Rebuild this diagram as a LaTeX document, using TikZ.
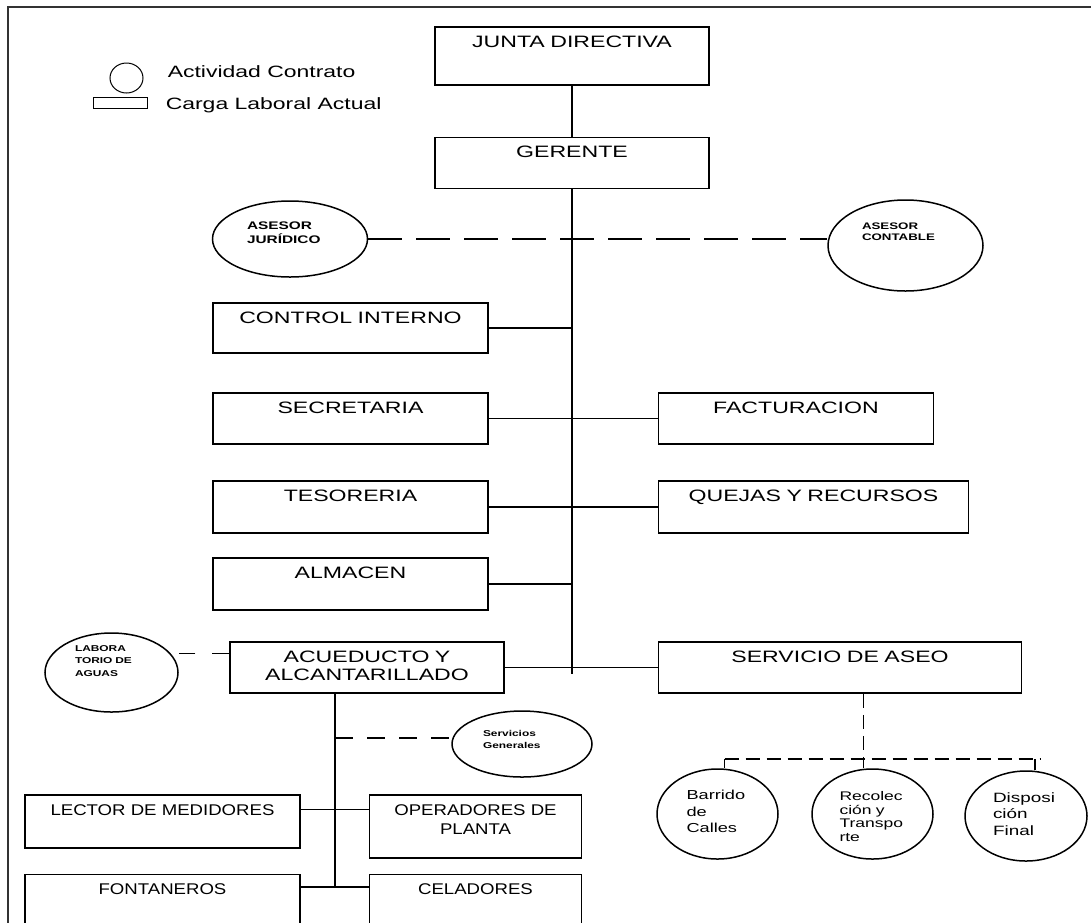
\documentclass[tikz,border=0pt]{standalone}
\usepackage{fontspec}
\setmainfont{Liberation Sans}
\newfontfamily\widefont[FakeStretch=1.4]{Liberation Sans}
\newfontfamily\tagfont[FakeStretch=1.2]{Liberation Sans}
\usetikzlibrary{shapes.geometric, positioning, calc}

\begin{document}
\begin{tikzpicture}[
    x=1pt, y=-1pt,
    line width=1.5pt,
    cargo/.style 2 args={draw, inner sep=0pt, align=center, text height=20pt,
                         text width=#1, text depth=#2,
                         font=\widefont\fontsize{16.5}{18}\selectfont},
    cargobajo/.style 2 args={cargo={#1}{#2},
                         font=\tagfont\fontsize{15.5}{19}\selectfont},
    contrato/.style={ellipse, draw, inner sep=0pt, align=left},
    link/.style={line width=1.5pt},
    dashlink/.style={link, dash pattern=#1},
    dashlink/.default={on 14pt off 7pt},
    clave/.style={anchor=base west, inner sep=0pt,
                  font=\widefont\fontsize{16.4}{19}\selectfont},
]
    \useasboundingbox (0,0) rectangle (1091,922);

    %==================== FRAME ====================
    \draw[line width=1.5pt, black!80] (8,930) -- (8,7) -- (1091,7);

    %==================== LEGEND ====================
    \node[ellipse, draw, line width=1pt, minimum width=33pt, minimum height=30pt]
        (clavecirc) at (126.5,78) {};
    \node[draw, line width=1pt, inner sep=0pt, minimum width=54pt, minimum height=11pt]
        (clavebox) at (120,102.5) {};
    \node[clave] (clavecirctxt) at (167,77) {Actividad Contrato};
    \node[clave] (claveboxtxt) at (165,109) {Carga Laboral Actual};

    %==================== DIRECCION ====================
    \node[cargo={274pt}{38pt}] (junta) at (572,56) {JUNTA DIRECTIVA};
    \node[cargo={274pt}{31pt}, below=51pt of junta] (gerente) {GERENTE};

    % asesores por contrato
    \node[contrato, minimum width=155pt, minimum height=76pt, text width=86pt,
          text height=8pt, text depth=28pt,
          font=\widefont\bfseries\fontsize{11}{14}\selectfont]
        (juridico) at (290,239) {ASESOR\\JURÍDICO};
    \node[contrato, minimum width=155pt, minimum height=91pt, text width=87pt,
          text height=7pt, text depth=39pt,
          font=\widefont\bfseries\fontsize{9.5}{11}\selectfont]
        (contable) at (905.5,245.5) {ASESOR\\CONTABLE};

    %==================== AREAS ADMINISTRATIVAS ====================
    \node[cargo={275pt}{30pt}] (control) at (350.5,328) {CONTROL INTERNO};
    \node[cargo={275pt}{31pt}] (secretaria) at (350.5,418.5) {SECRETARIA};
    \node[cargo={275pt}{31pt}, right=169pt of secretaria] (facturacion) {FACTURACION};
    \node[cargo={275pt}{32pt}] (tesoreria) at (350.5,507) {TESORERIA};
    \node[cargo={310pt}{32pt}, right=169pt of tesoreria] (quejas) {QUEJAS Y RECURSOS};
    \node[cargo={275pt}{32pt}] (almacen) at (350.5,584) {ALMACEN};

    %==================== SERVICIOS ====================
    \node[cargo={274pt}{31pt}] (acueducto) at (367,667.5) {ACUEDUCTO Y\\ALCANTARILLADO};
    \node[cargo={363pt}{31pt}, right=153pt of acueducto] (servicio) {SERVICIO DE ASEO};

    \node[contrato, minimum width=133pt, minimum height=79pt, text width=73pt,
          text height=6pt, text depth=49pt,
          font=\widefont\bfseries\fontsize{8.5}{12.5}\selectfont]
        (laboratorio) at (111.5,672.5) {LABORA\\TORIO DE\\AGUAS};
    \node[contrato, minimum width=140pt, minimum height=66pt, text width=78pt,
          text height=7pt, text depth=23pt,
          font=\widefont\bfseries\fontsize{8.5}{12}\selectfont]
        (servicios) at (522,744) {Servicios\\Generales};

    % personal de acueducto
    \node[cargobajo={275pt}{33pt}] (lector) at (162.5,821.5) {LECTOR DE MEDIDORES};
    \node[cargobajo={212pt}{43pt}, right=68pt of lector.north east, anchor=north west]
        (operadores) {OPERADORES DE\\PLANTA};
    \node[cargobajo={275pt}{32pt}, below=25pt of lector] (fontaneros) {FONTANEROS};
    \node[cargobajo={212pt}{32pt}, right=68pt of fontaneros] (celadores) {CELADORES};

    % aseo por contrato
    \node[contrato, minimum width=121pt, minimum height=90pt, text width=62pt,
          text height=10pt, text depth=39pt,
          font=\widefont\fontsize{13}{16.5}\selectfont]
        (barrido) at (717.5,814) {Barrido\\de\\Calles};
    \node[contrato, minimum width=121pt, minimum height=90pt, text width=66pt,
          text height=9pt, text depth=36pt,
          font=\widefont\fontsize{12.5}{13.7}\selectfont]
        (recoleccion) at (872.5,814) {Recolec\\ción y\\Transpo\\rte};
    \node[contrato, minimum width=122pt, minimum height=90pt, text width=66pt,
          text height=10pt, text depth=38pt,
          font=\widefont\fontsize{13.5}{16.5}\selectfont]
        (disposicion) at (1026,816) {Disposi\\ción\\Final};

    %==================== CONNECTORS ====================
    \coordinate (trunk) at ($(gerente.south)+(0,485)$);
    \draw[link] (junta) -- (gerente);
    \draw[link] (gerente) -- (trunk);
    \draw[dashlink={on 34pt off 14pt}] (juridico.east) -- (juridico.east -| contable.west);

    \draw[link] (control.east) -- (control.east -| trunk);
    \draw[link] (secretaria) -- (facturacion);
    \draw[link] (tesoreria) -- (quejas);
    \draw[link] (almacen.east) -- (almacen.east -| trunk);
    \draw[link] (acueducto) -- (servicio);

    % laboratorio
    \coordinate (labin) at ([yshift=-12pt]acueducto.north west);
    \draw[dashlink={on 17pt off 17pt}] (labin) -- (labin -| laboratorio.east);

    % ramal de acueducto
    \coordinate (ramal) at ([xshift=-32pt]acueducto.south);
    \coordinate (sglink) at ($(ramal)+(0,44)$);
    \coordinate (lectorlink) at ([yshift=-15pt]lector.north east);
    \coordinate (fontlink) at ([yshift=-13pt]fontaneros.north east);
    \draw[link] (ramal) -- (ramal |- fontlink);
    \draw[dashlink={on 18pt off 14pt}] (sglink) -- (sglink -| servicios.west);
    \draw[link] (lectorlink) -- (lectorlink -| operadores.west);
    \draw[link] (fontlink) -- (fontlink -| celadores.west);

    % ramal de aseo
    \coordinate (hub) at ($(servicio.south)+(23.5,65)$);
    \coordinate (aseoL) at ([xshift=7pt]barrido.north);
    \coordinate (aseoR) at ([xshift=9pt]disposicion.north);
    \draw[dashlink] (servicio.south -| hub) -- (hub);
    \draw[dashlink] (aseoL |- hub) -- ([xshift=5pt]aseoR |- hub);
    \draw[link] (aseoL) -- (aseoL |- hub);
    \draw[link] (recoleccion.north -| hub) -- (hub);
    \draw[link] (aseoR) -- (aseoR |- hub);

\end{tikzpicture}
\end{document}
